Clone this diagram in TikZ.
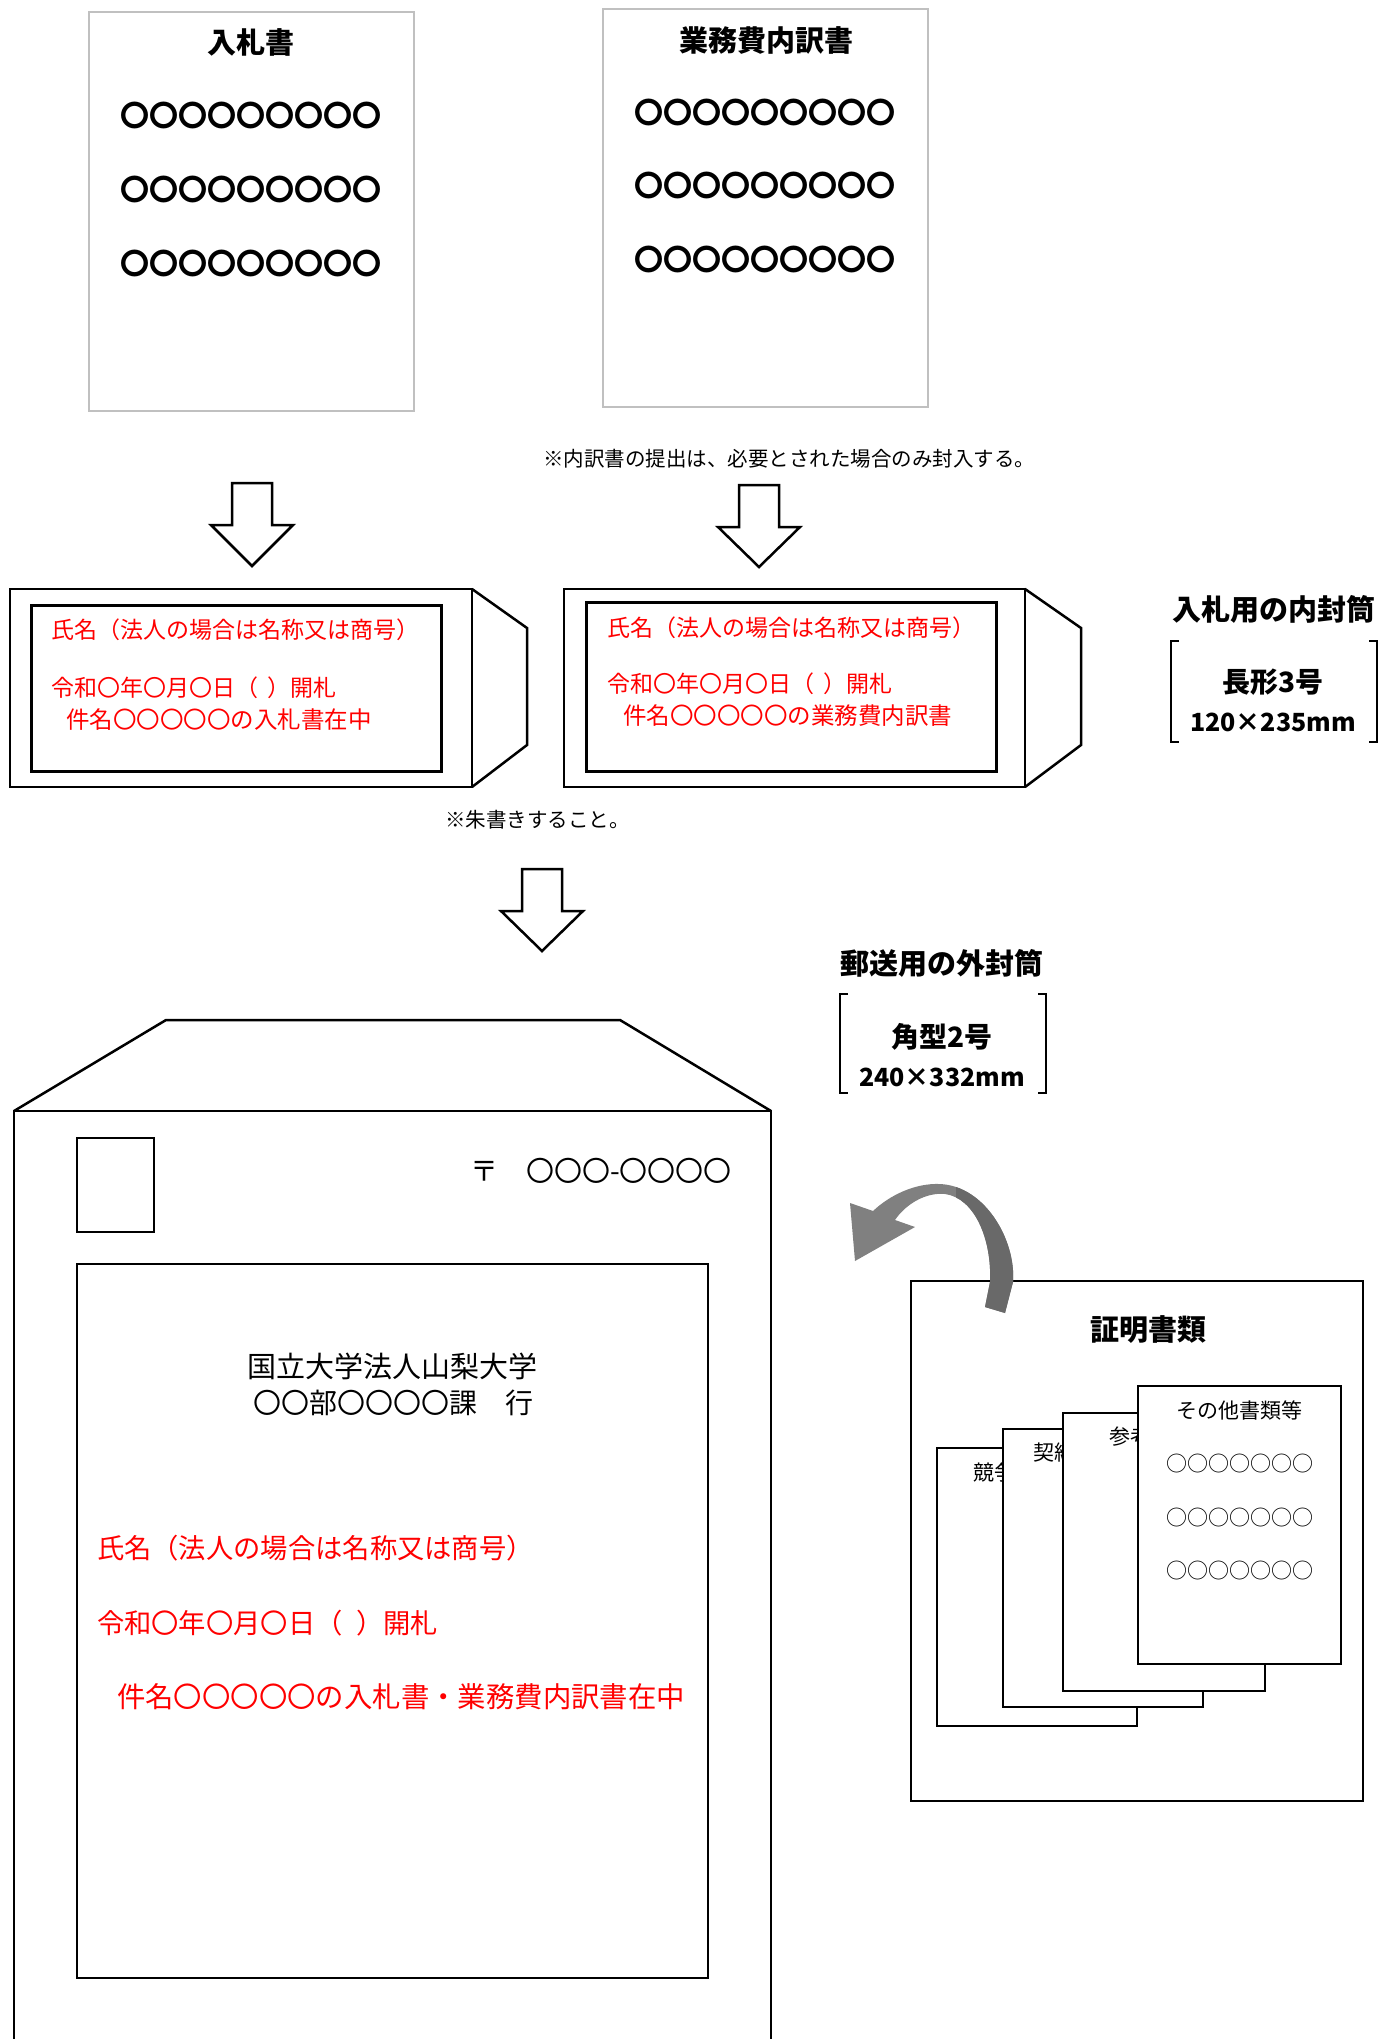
\documentclass[tikz,border=0pt]{standalone}
\usepackage{fontspec}
\setmainfont{Noto Sans CJK JP}
\newcommand\fsz[1]{\fontsize{#1}{#1}\selectfont}
\definecolor{docgray}{HTML}{C0C0C0}
\definecolor{arrowlight}{HTML}{808080}
\definecolor{arrowdark}{HTML}{696969}
\newcommand\blockarrowdn[4]{%
  \draw[blockarr] (#1-20,#2) -- (#1+20,#2) -- (#1+20,#3) -- (#1+41,#3) -- (#1,#4) -- (#1-41,#3) -- (#1-20,#3) -- cycle;}
\tikzset{
  txt/.style={inner sep=0pt, outer sep=0pt},
  redtxt/.style={txt, text=red, anchor=west},
  docbox/.style={draw=docgray, line width=2pt, fill=white, inner sep=0pt},
  blk/.style={draw=black, line width=2pt, inner sep=0pt},
  blkw/.style={blk, fill=white},
  envline/.style={draw=black, line width=2.5pt},
  blockarr/.style={draw=black, line width=2.5pt, fill=white, line join=miter},
}
\begin{document}
\begin{tikzpicture}[x=1pt,y=-1pt]
\useasboundingbox (0,0) rectangle (1383,2039);
\fill[white] (0,0) rectangle (1383,2039);

% ---------- top documents ----------
\node[docbox, minimum width=325pt, minimum height=399pt] (d1) at (251.5,211.5) {};
\node[txt, font=\fsz{29}\bfseries] (d1t) at (251,42) {入札書};
\node[txt, font=\fsz{29}\bfseries] (d1a) at (251,115) {〇〇〇〇〇〇〇〇〇};
\node[txt, font=\fsz{29}\bfseries] (d1b) at (251,189) {〇〇〇〇〇〇〇〇〇};
\node[txt, font=\fsz{29}\bfseries] (d1c) at (251,263) {〇〇〇〇〇〇〇〇〇};

\node[docbox, minimum width=325pt, minimum height=398pt] (d2) at (765.5,208) {};
\node[txt, font=\fsz{29}\bfseries] (d2t) at (766,40) {業務費内訳書};
\node[txt, font=\fsz{29}\bfseries] (d2a) at (765,112) {〇〇〇〇〇〇〇〇〇};
\node[txt, font=\fsz{29}\bfseries] (d2b) at (765,185) {〇〇〇〇〇〇〇〇〇};
\node[txt, font=\fsz{29}\bfseries] (d2c) at (765,259) {〇〇〇〇〇〇〇〇〇};

\node[txt, anchor=west, font=\fsz{20.5}] (note1) at (543,459) {※内訳書の提出は、必要とされた場合のみ封入する。};

% ---------- hollow arrows ----------
\blockarrowdn{252}{483}{525}{566}
\blockarrowdn{759}{485}{527}{567}
\blockarrowdn{542}{869}{911}{951}

% ---------- inner envelopes ----------
\node[blk, line width=2.5pt, minimum width=462pt, minimum height=198pt] (e1) at (241,688) {};
\draw[envline] (472,589) -- (527,628) -- (527,745) -- (472,787);
\node[blk, line width=3pt, minimum width=410pt, minimum height=166pt] (e1i) at (236,688) {};
\node[redtxt, font=\fsz{23}] (e1a) at (51,630) {氏名（法人の場合は名称又は商号）};
\node[redtxt, font=\fsz{23}] (e1b) at (51,688) {令和〇年〇月〇日（\hspace{0.4em}）開札};
\node[redtxt, font=\fsz{23.5}] (e1c) at (66,720) {件名〇〇〇〇〇の入札書在中};

\node[blk, line width=2.5pt, minimum width=461pt, minimum height=198pt] (e2) at (794.5,688) {};
\draw[envline] (1025,589) -- (1081,628) -- (1081,745) -- (1025,787);
\node[blk, line width=3pt, minimum width=410pt, minimum height=169pt] (e2i) at (791,686.5) {};
\node[redtxt, font=\fsz{23}] (e2a) at (607,628) {氏名（法人の場合は名称又は商号）};
\node[redtxt, font=\fsz{23}] (e2b) at (607,684) {令和〇年〇月〇日（\hspace{0.4em}）開札};
\node[redtxt, font=\fsz{23.5}] (e2c) at (623,716) {件名〇〇〇〇〇の業務費内訳書};

\node[txt, anchor=west, font=\fsz{20.5}] (note2) at (445,820) {※朱書きすること。};

% inner envelope label
\node[txt, font=\fsz{29}\bfseries] (il) at (1274,609) {入札用の内封筒};
\draw[line width=2pt] (1179,641) -- (1171,641) -- (1171,742) -- (1179,742);
\draw[line width=2pt] (1369,641) -- (1377,641) -- (1377,742) -- (1369,742);
\node[txt, font=\fsz{28}\bfseries] (il2) at (1273,682) {長形3号};
\node[txt, font=\fsz{25}\bfseries] (il3) at (1273,722) {120×235mm};

% outer envelope label
\node[txt, font=\fsz{29}\bfseries] (ol) at (942,963) {郵送用の外封筒};
\draw[line width=2pt] (848,994) -- (840,994) -- (840,1093) -- (848,1093);
\draw[line width=2pt] (1038,994) -- (1046,994) -- (1046,1093) -- (1038,1093);
\node[txt, font=\fsz{28}\bfseries] (ol2) at (942,1037) {角型2号};
\node[txt, font=\fsz{25}\bfseries] (ol3) at (942,1077) {240×332mm};

% ---------- outer envelope ----------
\draw[envline] (14,2050) -- (14,1111) -- (771,1111) -- (771,2050);
\draw[envline, line join=miter] (14,1111) -- (166,1020) -- (620,1020) -- (771,1111);
\node[blk, minimum width=77pt, minimum height=94pt] (stamp) at (115.5,1185) {};
\node[txt, anchor=west, font=\fsz{28}] (zip) at (470,1171) {〒　〇〇〇-〇〇〇〇};
\node[blk, minimum width=631pt, minimum height=714pt] (addr) at (392.5,1621) {};
\node[txt, font=\fsz{29}] (a1) at (392,1366) {国立大学法人山梨大学};
\node[txt, font=\fsz{28}] (a2) at (393,1403) {〇〇部〇〇〇〇課　行};
\node[redtxt, font=\fsz{27.3}] (r1) at (97,1548) {氏名（法人の場合は名称又は商号）};
\node[redtxt, font=\fsz{27.3}] (r2) at (97,1623) {令和〇年〇月〇日（\hspace{0.5em}）開札};
\node[redtxt, font=\fsz{28.4}] (r3) at (117,1697) {件名〇〇〇〇〇の入札書・業務費内訳書在中};

% ---------- certificates ----------
\node[blk, minimum width=452pt, minimum height=520pt] (cert) at (1137,1541) {};
\node[txt, font=\fsz{29}\bfseries] (ct) at (1148,1330) {証明書類};

\node[blkw, minimum width=200pt, minimum height=278pt] (ca) at (1037,1587) {};
\node[txt, anchor=west, font=\fsz{21}] (cal) at (973,1472) {競争};
\node[blkw, minimum width=200pt, minimum height=278pt] (cb) at (1103,1568) {};
\node[txt, anchor=west, font=\fsz{21}] (cbl) at (1033,1453) {契約};
\node[blkw, minimum width=202pt, minimum height=278pt] (cc) at (1164,1552) {};
\node[txt, anchor=west, font=\fsz{21}] (ccl) at (1109,1437) {参考};
\node[blkw, minimum width=203pt, minimum height=278pt] (cd) at (1239.5,1525) {};
\node[txt, font=\fsz{21}] (cdl) at (1239,1410) {その他書類等};
\node[txt, font=\fsz{21}] (cd1) at (1240,1464) {○○○○○○○};
\node[txt, font=\fsz{21}] (cd2) at (1240,1518) {○○○○○○○};
\node[txt, font=\fsz{21}] (cd3) at (1240,1571) {○○○○○○○};

% ---------- curved arrow ----------
\def\curvedarrow{(850,1203) -- (873,1211) .. controls (890,1195) and (915,1183) .. (940,1184)
  .. controls (985,1186) and (1016,1240) .. (1013,1282) -- (1005,1313) -- (985,1307) -- (990,1282)
  .. controls (992,1240) and (975,1198) .. (945,1194) .. controls (925,1192) and (905,1205) .. (895,1220)
  -- (915,1227) -- (855,1261) -- cycle}
\fill[arrowlight] \curvedarrow;
\begin{scope}
  \clip (956,1150) rectangle (1100,1350);
  \fill[arrowdark] \curvedarrow;
\end{scope}
\end{tikzpicture}
\end{document}
